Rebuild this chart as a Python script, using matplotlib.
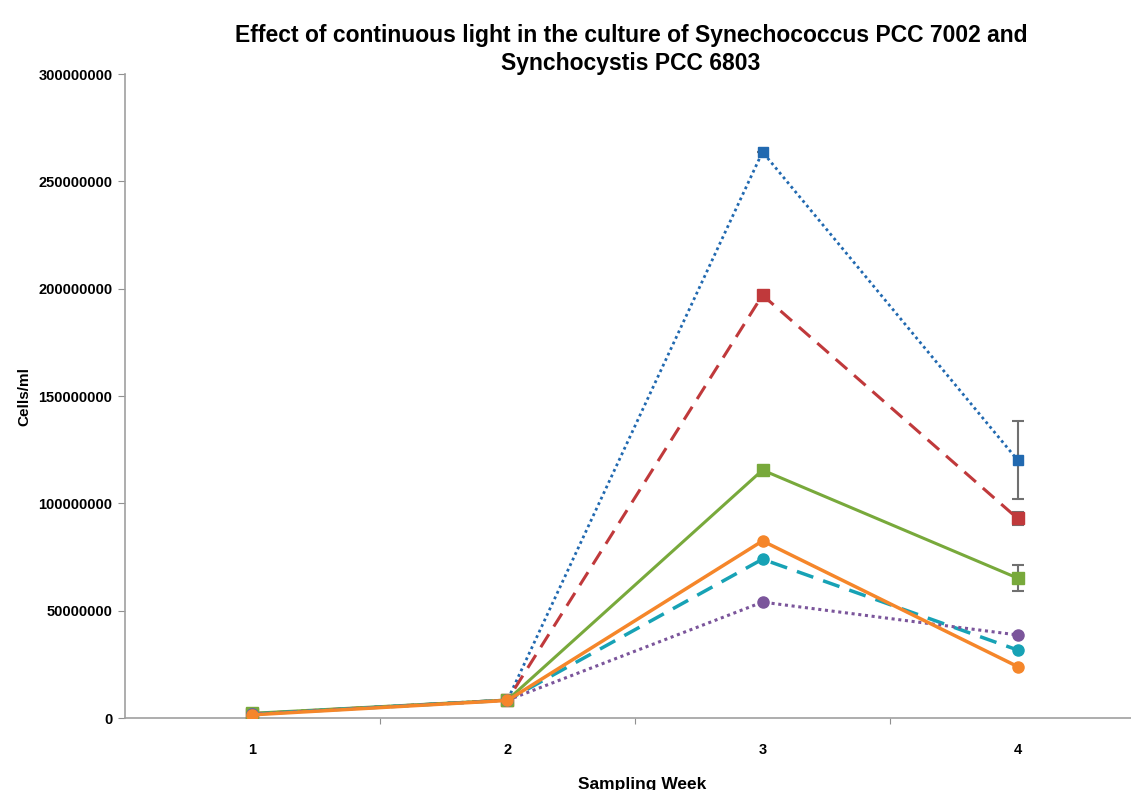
import matplotlib
matplotlib.use("Agg")
import matplotlib.pyplot as plt
from matplotlib.ticker import FuncFormatter

weeks = [1, 2, 3, 4]
blue = [2.0e6, 8.4e6, 263.7e6, 120.2e6]
red = [2.0e6, 8.4e6, 197.0e6, 93.0e6]
green = [2.2e6, 8.4e6, 115.5e6, 65.2e6]
orange = [1.5e6, 8.2e6, 82.5e6, 24.0e6]
teal = [1.8e6, 8.3e6, 74.0e6, 31.7e6]
purple = [1.8e6, 8.3e6, 54.0e6, 38.7e6]
blue_err = [0, 0, 0, 18e6]
red_err = [0, 0, 0, 3e6]
green_err = [0, 0, 0, 6e6]
yticks = [0, 50000000, 100000000, 150000000, 200000000, 250000000, 300000000]

plt.rcParams['font.family'] = ['Liberation Sans', 'DejaVu Sans']
fig = plt.figure(figsize=(11.31, 7.9), dpi=100)
ax = fig.add_axes([0.1105, 0.0911, 0.8895, 0.8152])

series = [
    (blue, blue_err, '#2169B0', (0, (1, 1.2)), 's', 7.5, 2.0),
    (red, red_err, '#C0393B', (0, (5, 3)), 's', 8.5, 2.2),
    (green, green_err, '#78A93B', '-', 's', 9, 2.2),
    (teal, None, '#17A2B5', (0, (5, 3)), 'o', 8, 2.5),
    (purple, None, '#7B559B', (0, (1, 1.2)), 'o', 8, 2.2),
    (orange, None, '#F5862A', '-', 'o', 8, 2.5),
]
for vals, err, col, ls, mk, ms, lw in series:
    if err is not None:
        ax.errorbar(weeks, vals, yerr=err, fmt='none', ecolor='#707070',
                    elinewidth=1.5, capsize=4, capthick=1.5, zorder=2)
    ax.plot(weeks, vals, color=col, linestyle=ls, linewidth=lw, marker=mk,
            markersize=ms, markerfacecolor=col, markeredgecolor=col, zorder=3)

ax.set_xlim(0.5, 4.445)
ax.set_ylim(0, 300000000)
ax.set_yticks(yticks)
ax.yaxis.set_major_formatter(FuncFormatter(lambda v, p: f"{int(v)}"))
ax.set_xticks([1.5, 2.5, 3.5])
ax.set_xticklabels([])
ax.set_xticks(weeks, minor=True)
ax.set_xticklabels([str(w) for w in weeks], minor=True)
ax.tick_params(axis='x', which='minor', length=0, pad=18, labelsize=10.5)
ax.tick_params(axis='x', which='major', length=4, color='#909090', direction='out')
ax.tick_params(axis='y', length=5, color='#909090', labelsize=10.5, pad=4)
for lab in ax.get_yticklabels() + ax.get_xticklabels(minor=True):
    lab.set_fontweight('bold')
for s in ['top', 'right']:
    ax.spines[s].set_visible(False)
for s in ['left', 'bottom']:
    ax.spines[s].set_color('#A0A0A0')
    ax.spines[s].set_linewidth(1.2)

ax.set_ylabel('Cells/ml', fontsize=11, fontweight='bold')
ax.yaxis.set_label_coords(-0.093, 0.5)
fig.text(0.568, -0.002, 'Sampling Week', fontsize=12.5, fontweight='bold', ha='center', va='bottom')
fig.text(0.558, 0.905, 'Effect of continuous light in the culture of Synechococcus PCC 7002 and\nSynchocystis PCC 6803',
         fontsize=16.5, fontweight='bold', ha='center', va='bottom', linespacing=1.3)

fig.savefig('out.png', dpi=100)
